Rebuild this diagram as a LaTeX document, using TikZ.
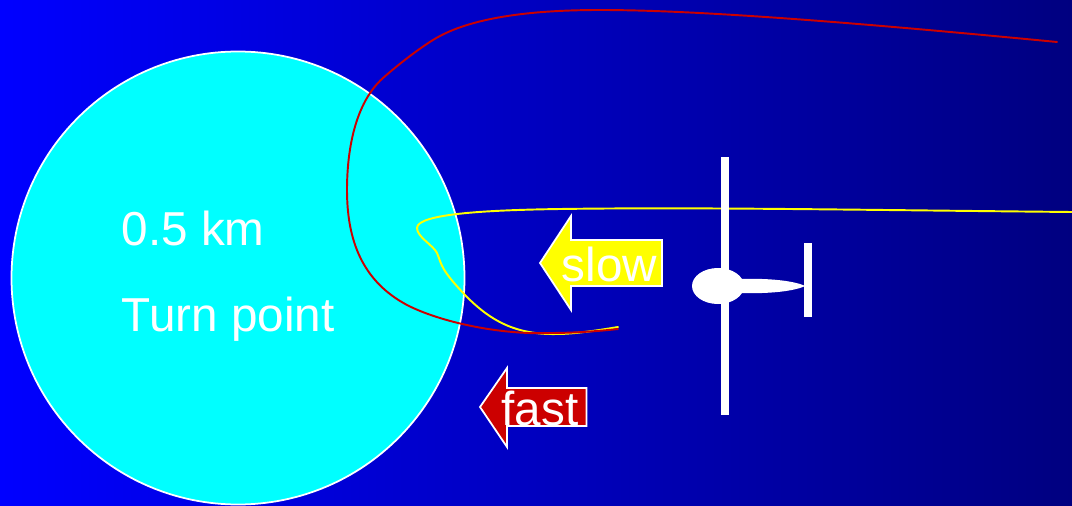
\documentclass[tikz,border=0pt]{standalone}
\usepackage{fontspec}
\setmainfont{Liberation Sans}
\definecolor{skyleft}{RGB}{0,0,255}
\definecolor{skymid}{RGB}{0,0,205}
\definecolor{skyright}{RGB}{0,0,128}
\definecolor{fastred}{RGB}{204,0,0}
\definecolor{zonecyan}{RGB}{0,255,255}
\definecolor{slowyellow}{RGB}{255,255,0}
\tikzset{
  label/.style={text=white,inner sep=0pt,anchor=base west,font=\fontsize{13.55pt}{16pt}\selectfont},
  speedarrow/.style={draw=white,line width=0.5pt,line join=miter},
  track/.style={line width=0.55pt,line cap=round,line join=round}
}
\begin{document}
\begin{tikzpicture}
  \useasboundingbox (0,0) rectangle (10.72,5.05);
  \shade[left color=skyleft,middle color=skymid,right color=skyright] (0,0) rectangle (10.72,5.05);
  \draw[line width=0.5pt,draw=white,fill=zonecyan] (2.38,2.27) circle (2.265);
  \node[label] (radius) at (1.21,2.60) {0.5 km};
  \node[label] (turn) at (1.21,1.74) {Turn point};
  \draw[speedarrow,fill=slowyellow] (5.40,2.42) -- (5.71,2.89) -- (5.71,2.65) -- (6.62,2.65) -- (6.62,2.19) -- (5.71,2.19) -- (5.71,1.95) -- cycle;
  \draw[speedarrow,fill=fastred] (4.80,0.98) -- (5.07,1.37) -- (5.07,1.17) -- (5.865,1.17) -- (5.865,0.79) -- (5.07,0.79) -- (5.07,0.58) -- cycle;
  \node[label] (slow) at (5.61,2.24) {slow};
  \node[label] (fast) at (5.01,0.80) {fast};
  \draw[track,slowyellow] (10.72,2.93) .. controls (8.6,2.95) and (7.0,2.98) .. (5.60,2.96) .. controls (4.95,2.95) and (4.17,2.92) .. (4.17,2.77) .. controls (4.17,2.68) and (4.33,2.60) .. (4.37,2.52) .. controls (4.42,2.40) and (4.40,2.36) .. (4.67,2.08) .. controls (4.90,1.85) and (5.15,1.70) .. (5.57,1.71) .. controls (5.75,1.71) and (6.00,1.75) .. (6.18,1.78);
  \draw[track,fastred] (10.57,4.63) .. controls (8.6,4.82) and (7.0,4.95) .. (6.00,4.95) .. controls (5.20,4.95) and (4.65,4.85) .. (4.33,4.65) .. controls (4.20,4.57) and (4.00,4.42) .. (3.83,4.27) .. controls (3.55,4.02) and (3.47,3.55) .. (3.47,3.15) .. controls (3.47,2.65) and (3.62,2.24) .. (4.07,2.00) .. controls (4.40,1.83) and (5.00,1.70) .. (5.50,1.72) .. controls (5.75,1.72) and (6.00,1.74) .. (6.18,1.76);
  \fill[white] (7.21,0.90) rectangle (7.29,3.48);
  \fill[white] (8.04,1.88) rectangle (8.12,2.62);
  \fill[white] (7.40,2.26) .. controls (7.70,2.27) and (7.95,2.24) .. (8.05,2.19) .. controls (7.95,2.14) and (7.70,2.11) .. (7.40,2.12) -- cycle;
  \fill[white] (7.18,2.19) ellipse (0.26 and 0.18);
\end{tikzpicture}
\end{document}
